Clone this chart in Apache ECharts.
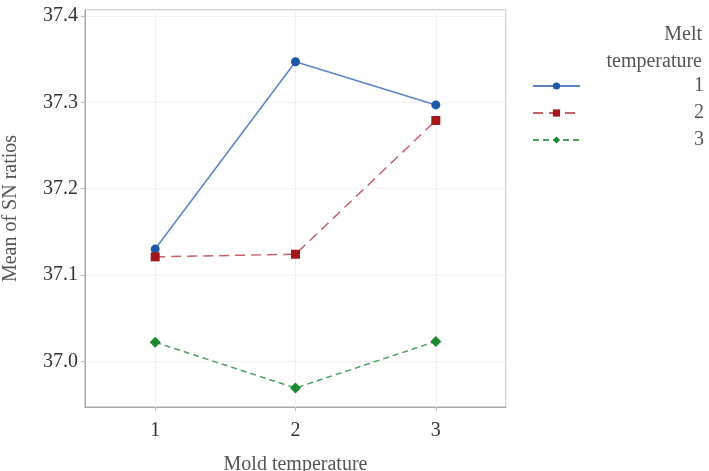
<!DOCTYPE html>
<html>
<head>
<meta charset="utf-8">
<script src="https://cdn.jsdelivr.net/npm/echarts@6/dist/echarts.min.js"></script>
<style>
  html, body { margin: 0; padding: 0; background: #fff; }
  #chart { width: 709px; height: 471px; }
</style>
</head>
<body>
<div id="chart"></div>
<script>
// mold temperature levels on the x axis
const moldLevels = [1, 2, 3];
// mean SN ratios per melt temperature level
const melt1 = [37.130, 37.347, 37.297];
const melt2 = [37.121, 37.124, 37.279];
const melt3 = [37.022, 36.969, 37.023];
const meltNames = ['1', '2', '3'];

const serif = 'Liberation Serif';

function pairs(vals) {
  return moldLevels.map((x, i) => [x, vals[i]]);
}

const chart = echarts.init(document.getElementById('chart'));

const option = {
  animation: false,
  backgroundColor: '#fff',
  grid: {
    left: 85, right: 203, top: 10, bottom: 64,
    outerBoundsMode: 'none',
    show: true, borderColor: '#a8a8a8', borderWidth: 1
  },
  graphic: [{
    type: 'text',
    x: 702,
    y: 21,
    style: {
      text: 'Melt\ntemperature',
      align: 'right',
      verticalAlign: 'top',
      font: '20px "Liberation Serif"',
      lineHeight: 27,
      fill: '#555'
    }
  }],
  legend: {
    orient: 'vertical',
    left: 532,
    top: 76,
    padding: 0,
    itemWidth: 47,
    itemHeight: 9,
    itemGap: 7,
    data: meltNames,
    textStyle: {
      fontFamily: serif, fontSize: 20, color: '#555',
      padding: [0, 0, 0, 109]
    }
  },
  xAxis: {
    type: 'value',
    min: 0.5,
    max: 3.5,
    splitNumber: 3,
    name: 'Mold temperature',
    nameLocation: 'middle',
    nameGap: 48,
    nameTextStyle: { fontFamily: serif, fontSize: 20, color: '#555' },
    axisLine: { show: true, lineStyle: { color: '#a8a8a8' } },
    axisTick: { show: true, length: 4, lineStyle: { color: '#bbb' } },
    axisLabel: {
      fontFamily: serif, fontSize: 20, color: '#333', margin: 14,
      showMinLabel: false, showMaxLabel: false
    },
    splitLine: { show: true, lineStyle: { color: '#f0f0f0' } }
  },
  yAxis: {
    type: 'value',
    min: 36.947,
    max: 37.407,
    splitNumber: 5,
    name: 'Mean of SN ratios',
    nameLocation: 'middle',
    nameGap: 64,
    nameTextStyle: { fontFamily: serif, fontSize: 20, color: '#555' },
    axisLine: { show: true, lineStyle: { color: '#a8a8a8' } },
    axisTick: { show: true, length: 4, lineStyle: { color: '#bbb' } },
    axisLabel: {
      fontFamily: serif, fontSize: 20, color: '#333', margin: 7,
      showMinLabel: false, showMaxLabel: false,
      formatter: v => v.toFixed(1)
    },
    splitLine: { show: true, lineStyle: { color: '#f0f0f0' } }
  },
  series: [
    {
      name: meltNames[0],
      type: 'line',
      data: pairs(melt1),
      symbol: 'circle',
      symbolSize: 9,
      lineStyle: { color: '#5b84c4', width: 1.5, type: 'solid' },
      itemStyle: { color: '#1f58a8' }
    },
    {
      name: meltNames[1],
      type: 'line',
      data: pairs(melt2),
      symbol: 'rect',
      symbolSize: 9,
      lineStyle: { color: '#c4626a', width: 1.5, type: [10, 6] },
      itemStyle: { color: '#a3161c' }
    },
    {
      name: meltNames[2],
      type: 'line',
      data: pairs(melt3),
      symbol: 'diamond',
      symbolSize: 11,
      lineStyle: { color: '#4f9e62', width: 1.5, type: [6, 4] },
      itemStyle: { color: '#1a8a30' }
    }
  ]
};

chart.setOption(option);
</script>
</body>
</html>
